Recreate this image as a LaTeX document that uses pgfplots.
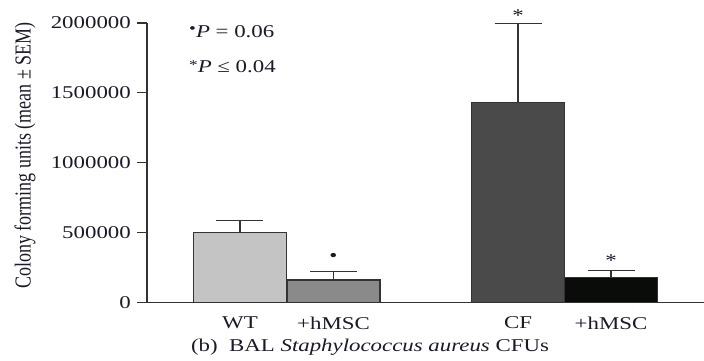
\documentclass[border=0pt]{standalone}
\usepackage{fontspec}
\setmainfont[FakeStretch=1.27]{Liberation Serif}
\newfontfamily\plainserif{Liberation Serif}
\usepackage{pgfplots}
\pgfplotsset{compat=1.18}
\definecolor{barA}{HTML}{C4C4C4}
\definecolor{barB}{HTML}{8A8A8A}
\definecolor{barC}{HTML}{4A4A4A}
\definecolor{barD}{HTML}{0A0C0A}
\definecolor{edge}{HTML}{333333}
\definecolor{txt}{HTML}{1A1A2A}
\begin{document}
\fontsize{18}{21}\selectfont
\begin{tikzpicture}
\begin{axis}[
  scale only axis,
  width=557pt, height=279.5pt,
  xmin=0, xmax=557,
  ymin=0, ymax=2000000,
  axis x line*=bottom,
  axis y line*=left,
  axis line style={draw=edge, line width=1.4pt},
  xtick={93,186.5,371,464},
  xticklabels={WT,+hMSC,CF,+hMSC},
  x tick style={draw=none},
  ytick={0,500000,1000000,1500000,2000000},
  y tick style={draw=edge, line width=1.2pt},
  tick align=outside,
  major tick length=10pt,
  scaled y ticks=false,
  yticklabel style={/pgf/number format/fixed, /pgf/number format/1000 sep={}, /pgf/number format/assume math mode=true, font=\fontsize{18}{21}\selectfont, text=txt},
  xticklabel style={font=\fontsize{18}{21}\selectfont, text=txt, yshift=2pt},
  ylabel={\scalebox{1}[1.27]{\plainserif\fontsize{18}{21}\selectfont Colony forming units (mean \textpm{} SEM)}},
  ylabel style={text=txt, yshift=3pt, xshift=7pt},
  clip=false,
  error bars/y dir=plus,
  error bars/y explicit,
  error bars/error bar style={draw=edge, line width=1.2pt},
  error bars/error mark options={rotate=90, mark size=23.5pt, line width=1.2pt, draw=edge},
]
\addplot[ybar, bar width=93, bar shift=0pt, fill=barA, draw=edge, line width=1.2pt]
  coordinates {(93,503000) +- (0,81000)};
\addplot[ybar, bar width=93, bar shift=0pt, fill=barB, draw=edge, line width=1.2pt]
  coordinates {(186.5,161000) +- (0,60000)};
\addplot[ybar, bar width=93, bar shift=0pt, fill=barC, draw=edge, line width=1.2pt]
  coordinates {(371,1430000) +- (0,566000)};
\addplot[ybar, bar width=93, bar shift=0pt, fill=barD, draw=edge, line width=1.2pt]
  coordinates {(464,181000) +- (0,47000)};
\node[text=txt, anchor=center] at (axis cs:186.5,322000) {\textbullet};
\node[text=txt, anchor=center] at (axis cs:371,2050000) {*};
\node[text=txt, anchor=center] at (axis cs:464,300000) {*};
\node[text=txt, anchor=west, inner sep=0pt] at (axis cs:42,1940000) {\raisebox{0.4ex}{\scalebox{0.85}{\textbullet}}\textit{P} = 0.06};
\node[text=txt, anchor=west, inner sep=0pt] at (axis cs:42,1690000) {\raisebox{0.3ex}{\scalebox{0.75}{*}}\textit{P} ≤ 0.04};
\node[text=txt, anchor=center] at (axis cs:223,-318000) {(b)\ \ BAL \textit{Staphylococcus aureus} CFUs};
\coordinate (bl) at (rel axis cs:0,0);
\end{axis}
\pgfresetboundingbox
\path (bl) ++(-147pt,-57.5pt) rectangle ++(704pt,360pt);
\end{tikzpicture}
\end{document}
